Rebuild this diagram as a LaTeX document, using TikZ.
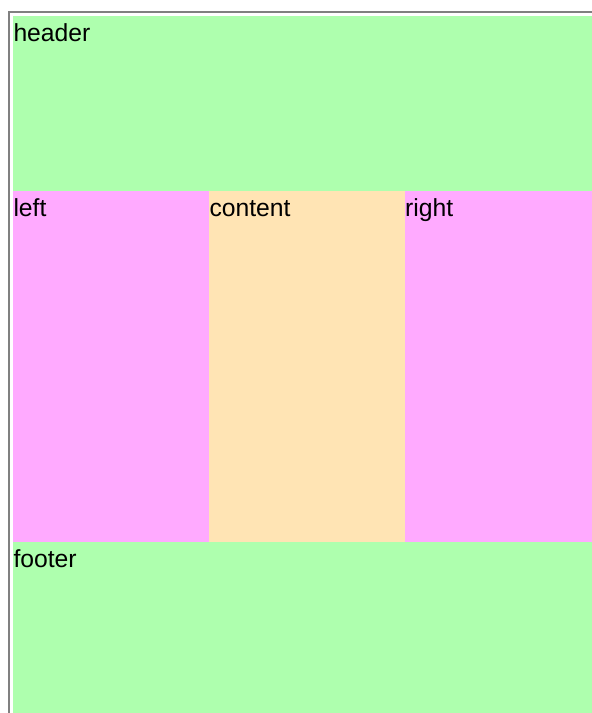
\documentclass[tikz,border=0pt]{standalone}
\usepackage{fontspec}
\setmainfont{Liberation Sans}
\definecolor{hdrgreen}{RGB}{174,255,174}
\definecolor{sidepink}{RGB}{255,170,255}
\definecolor{midtan}{RGB}{255,228,180}
\definecolor{framegray}{RGB}{128,128,128}
\begin{document}
\begin{tikzpicture}[x=1pt,y=-1pt,
  lab/.style={anchor=base west, inner sep=0pt, font=\fontsize{24.7}{28}\selectfont, text=black}]
\useasboundingbox (0,0) rectangle (592,713);
\fill[white] (0,0) rectangle (592,713);
% frame
\fill[framegray] (8,11) rectangle (592,12.6);
\fill[framegray] (8,11) rectangle (9.6,713);
% blocks
\fill[hdrgreen] (13.3,16) rectangle (592,191);
\fill[sidepink] (13.3,191) rectangle (209.3,541.7);
\fill[midtan] (209.3,191) rectangle (405,541.7);
\fill[sidepink] (405,191) rectangle (592,541.7);
\fill[hdrgreen] (13.3,541.7) rectangle (592,713);
% labels
\node[lab] (header) at (13.3,41.7) {header};
\node[lab] (left) at (13.3,216.7) {left};
\node[lab] (content) at (209.3,216.7) {content};
\node[lab] (right) at (405,216.7) {right};
\node[lab] (footer) at (13.3,567.4) {footer};
\end{tikzpicture}
\end{document}
